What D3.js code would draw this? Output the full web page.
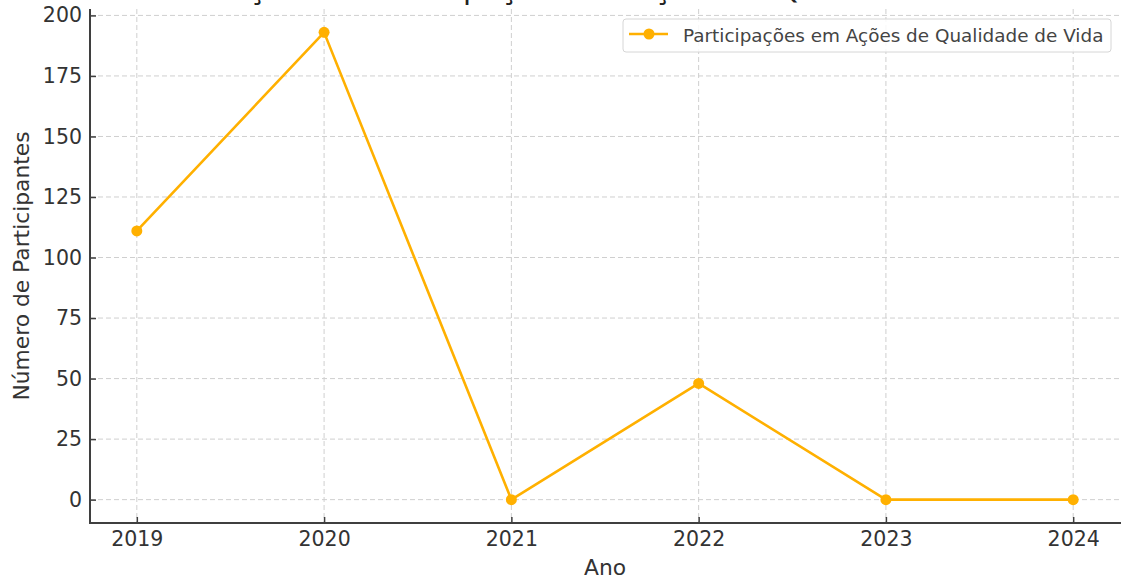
<!DOCTYPE html>
<html>
<head>
<meta charset="utf-8">
<script src="https://cdn.jsdelivr.net/npm/d3@7"></script>
<style>
  body { margin: 0; background: #fff; }
  .chart { width: 1121px; height: 582px; }
  text { font-family: "DejaVu Sans", sans-serif; }
  .axis path { display: none; }
  .grid line { stroke: #cfcfcf; stroke-width: 1; stroke-dasharray: 5,3; }
</style>
</head>
<body>
<div class="chart"></div>
<script>
// data
let years = [2019, 2020, 2021, 2022, 2023, 2024];
let participants = [111, 193, 0, 48, 0, 0];
let yTicks = [0, 25, 50, 75, 100, 125, 150, 175, 200];

let titleText = "Evolução das Participações em Ações de Qualidade de Vida";
let seriesName = "Participações em Ações de Qualidade de Vida";
let xLabel = "Ano";
let yLabel = "Número de Participantes";

let orange = "#ffb000";
let spineColor = "#3f3f3f";

let margin, width, height, xScale, yScale, svg, plot, line;

function init() {
    setDimensions();
    setScales();
    appendElements();
}

function setDimensions() {
    margin = { top: 9, right: 1, bottom: 59, left: 90 };
    width = 1121 - margin.left - margin.right;
    height = 582 - margin.top - margin.bottom;
}

function setScales() {
    // matplotlib style 5% padding on both axes
    let xPad = (d3.max(years) - d3.min(years)) * 0.05;
    xScale = d3.scaleLinear()
        .domain([d3.min(years) - xPad, d3.max(years) + xPad])
        .range([0, width]);

    let yPad = d3.max(participants) * 0.05;
    yScale = d3.scaleLinear()
        .domain([-yPad, d3.max(participants) + yPad])
        .range([height, 0]);

    line = d3.line()
        .x((d, i) => xScale(years[i]))
        .y(d => yScale(d));
}

function appendElements() {
    svg = d3.select(".chart").append("svg")
        .attr("width", 1121)
        .attr("height", 582);

    // title sits above the top of the picture, only descenders show
    svg.append("text")
        .attr("x", 167)
        .attr("y", -1)
        .attr("font-size", 29.6)
        .attr("fill", "#222")
        .text(titleText);

    plot = svg.append("g")
        .attr("transform", `translate(${margin.left},${margin.top})`);

    // grid
    plot.append("g").attr("class", "grid")
        .selectAll("line.h")
        .data(yTicks)
        .enter().append("line")
        .attr("x1", 0).attr("x2", width)
        .attr("y1", d => yScale(d)).attr("y2", d => yScale(d));

    plot.append("g").attr("class", "grid")
        .selectAll("line.v")
        .data(years)
        .enter().append("line")
        .attr("y1", 0).attr("y2", height)
        .attr("x1", d => xScale(d)).attr("x2", d => xScale(d));

    // axes, ticks pointing inward
    plot.append("g")
        .attr("class", "axis x-axis")
        .attr("transform", `translate(0,${height})`)
        .call(d3.axisBottom(xScale).tickValues(years).tickFormat(d3.format("d"))
            .tickSizeInner(-6).tickPadding(8));

    plot.append("g")
        .attr("class", "axis y-axis")
        .call(d3.axisLeft(yScale).tickValues(yTicks)
            .tickSizeInner(-6).tickPadding(8));

    plot.selectAll(".axis .tick line")
        .attr("stroke", spineColor)
        .attr("stroke-width", 1.5);

    plot.selectAll(".axis text")
        .attr("font-size", 20.5)
        .attr("font-family", "DejaVu Sans")
        .attr("fill", "#333");

    // spines (left and bottom only)
    plot.append("line")
        .attr("x1", 0).attr("x2", 0)
        .attr("y1", 0).attr("y2", height + 1)
        .attr("stroke", spineColor).attr("stroke-width", 2);

    plot.append("line")
        .attr("x1", -1).attr("x2", width + 1)
        .attr("y1", height).attr("y2", height)
        .attr("stroke", spineColor).attr("stroke-width", 2);

    // series
    plot.append("path")
        .datum(participants)
        .attr("d", line)
        .attr("fill", "none")
        .attr("stroke", orange)
        .attr("stroke-width", 2.6)
        .attr("stroke-linejoin", "round");

    plot.selectAll(".dot")
        .data(participants)
        .enter().append("circle")
        .attr("class", "dot")
        .attr("cx", (d, i) => xScale(years[i]))
        .attr("cy", d => yScale(d))
        .attr("r", 5.5)
        .attr("fill", orange);

    // axis labels
    svg.append("text")
        .attr("x", margin.left + width / 2)
        .attr("y", 575)
        .attr("text-anchor", "middle")
        .attr("font-size", 21.8)
        .attr("fill", "#333")
        .text(xLabel);

    svg.append("text")
        .attr("transform", `translate(29,${margin.top + height / 2}) rotate(-90)`)
        .attr("text-anchor", "middle")
        .attr("font-size", 21.8)
        .attr("fill", "#333")
        .text(yLabel);

    // legend
    let legend = svg.append("g").attr("transform", "translate(623,19)");

    legend.append("rect")
        .attr("width", 488)
        .attr("height", 33)
        .attr("rx", 3)
        .attr("fill", "#fff")
        .attr("fill-opacity", 0.85)
        .attr("stroke", "#d6d6d6")
        .attr("stroke-width", 1);

    legend.append("line")
        .attr("x1", 6).attr("x2", 45)
        .attr("y1", 15).attr("y2", 15)
        .attr("stroke", orange)
        .attr("stroke-width", 2.6);

    legend.append("circle")
        .attr("cx", 26).attr("cy", 15).attr("r", 5.5)
        .attr("fill", orange);

    legend.append("text")
        .attr("x", 60)
        .attr("y", 23)
        .attr("font-size", 18.4)
        .attr("fill", "#444")
        .text(seriesName);
}

init();
</script>
</body>
</html>
